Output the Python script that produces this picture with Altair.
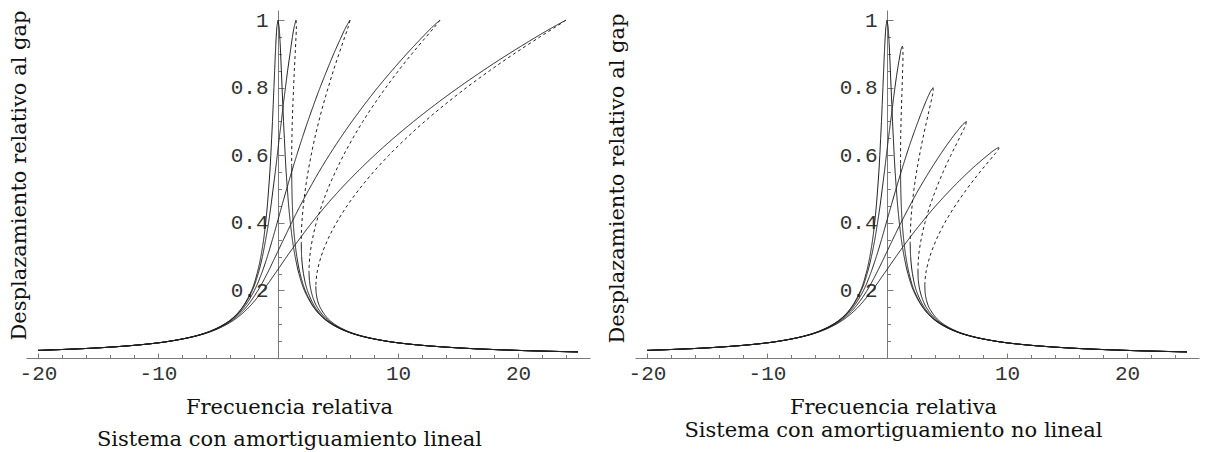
import altair as alt
import pandas as pd

# ---------------- values ----------------
# Left panel: "Sistema con amortiguamiento lineal"
L1_LEFT = [(-20.0, 0.0225), (-14.99, 0.03), (-11.24, 0.04), (-8.99, 0.05), (-6.91, 0.065), (-5.61, 0.08),
           (-4.48, 0.1), (-3.72, 0.12), (-2.97, 0.15), (-2.20, 0.2), (-1.74, 0.25), (-1.43, 0.3), (-1.20, 0.35),
           (-1.03, 0.4), (-0.89, 0.45), (-0.78, 0.5), (-0.68, 0.55), (-0.60, 0.6), (-0.53, 0.65), (-0.46, 0.7),
           (-0.40, 0.75), (-0.34, 0.8), (-0.28, 0.85), (-0.22, 0.9), (-0.15, 0.95), (-0.09, 0.98), (0.0, 1.0)]
L1_RIGHT = [(0.0, 1.0), (0.09, 0.98), (0.15, 0.95), (0.22, 0.9), (0.28, 0.85), (0.34, 0.8), (0.40, 0.75),
            (0.46, 0.7), (0.53, 0.65), (0.60, 0.6), (0.68, 0.55), (0.78, 0.5), (0.89, 0.45), (1.03, 0.4),
            (1.20, 0.35), (1.43, 0.3), (1.74, 0.25), (2.20, 0.2), (2.97, 0.15), (3.72, 0.12), (4.48, 0.1),
            (5.61, 0.08), (6.91, 0.065), (8.99, 0.05), (11.24, 0.04), (14.99, 0.03), (20.0, 0.0225), (25.0, 0.018)]

L2_UP = [(-20.0, 0.0225), (-14.99, 0.03), (-11.24, 0.04), (-8.99, 0.05), (-6.90, 0.065), (-5.60, 0.08),
         (-4.47, 0.1), (-3.70, 0.12), (-2.94, 0.15), (-2.14, 0.2), (-1.65, 0.25), (-1.30, 0.3), (-1.03, 0.35),
         (-0.79, 0.4), (-0.59, 0.45), (-0.41, 0.5), (-0.23, 0.55), (-0.06, 0.6), (0.10, 0.65), (0.28, 0.7),
         (0.44, 0.75), (0.62, 0.8), (0.80, 0.85), (1.00, 0.9), (1.20, 0.95), (1.35, 0.98), (1.5, 1.0)]
L2_DASH = [(1.5, 1.0), (1.53, 0.98), (1.50, 0.95), (1.43, 0.9), (1.36, 0.85), (1.30, 0.8), (1.24, 0.75),
           (1.19, 0.7), (1.16, 0.65), (1.14, 0.6), (1.14, 0.57)]
L2_LOW = [(1.14, 0.57), (1.14, 0.55), (1.16, 0.5), (1.20, 0.45), (1.27, 0.4), (1.39, 0.35), (1.57, 0.3),
          (1.84, 0.25), (2.27, 0.2), (3.00, 0.15), (3.74, 0.12), (4.49, 0.1), (5.62, 0.08), (6.92, 0.065),
          (9.0, 0.05), (11.24, 0.04), (14.99, 0.03), (20.0, 0.0225), (25.0, 0.018)]

L3_UP = [(-20.0, 0.0225), (-14.98, 0.03), (-11.23, 0.04), (-8.97, 0.05), (-6.88, 0.065), (-5.57, 0.08),
         (-4.42, 0.1), (-3.64, 0.12), (-2.83, 0.15), (-1.97, 0.2), (-1.37, 0.25), (-0.89, 0.3), (-0.47, 0.35),
         (-0.07, 0.4), (0.32, 0.45), (0.72, 0.5), (1.13, 0.55), (1.56, 0.6), (2.01, 0.65), (2.48, 0.7),
         (2.98, 0.75), (3.50, 0.8), (4.06, 0.85), (4.64, 0.9), (5.27, 0.95), (5.67, 0.98), (6.0, 1.0)]
L3_DASH = [(6.0, 1.0), (5.85, 0.98), (5.56, 0.95), (5.08, 0.9), (4.61, 0.85), (4.18, 0.8), (3.77, 0.75),
           (3.40, 0.7), (3.06, 0.65), (2.76, 0.6), (2.50, 0.55), (2.28, 0.5), (2.11, 0.45), (1.99, 0.4),
           (1.95, 0.37), (1.94, 0.34)]
L3_LOW = [(1.94, 0.34), (1.97, 0.3), (2.12, 0.25), (2.45, 0.2), (3.10, 0.15), (3.81, 0.12), (4.54, 0.1),
          (5.65, 0.08), (6.93, 0.065), (9.0, 0.05), (11.25, 0.04), (15.0, 0.03), (20.0, 0.0225), (25.0, 0.018)]

L4_UP = [(-20.0, 0.0225), (-14.98, 0.03), (-11.22, 0.04), (-8.96, 0.05), (-6.85, 0.065), (-5.52, 0.08),
         (-4.34, 0.1), (-3.53, 0.12), (-2.66, 0.15), (-1.67, 0.2), (-0.90, 0.25), (-0.22, 0.3), (0.45, 0.35),
         (1.13, 0.4), (1.84, 0.45), (2.60, 0.5), (3.40, 0.55), (4.26, 0.6), (5.18, 0.65), (6.16, 0.7),
         (7.20, 0.75), (8.30, 0.8), (9.48, 0.85), (10.72, 0.9), (12.04, 0.95), (12.87, 0.98), (13.5, 1.0)]
L4_DASH = [(13.5, 1.0), (13.06, 0.98), (12.33, 0.95), (11.15, 0.9), (10.03, 0.85), (8.98, 0.8), (7.99, 0.75),
           (7.07, 0.7), (6.23, 0.65), (5.46, 0.6), (4.77, 0.55), (4.15, 0.5), (3.63, 0.45), (3.19, 0.4),
           (2.86, 0.35), (2.65, 0.3), (2.58, 0.258)]
L4_LOW = [(2.58, 0.258), (2.62, 0.23), (2.75, 0.2), (2.95, 0.175), (3.27, 0.15), (3.92, 0.12), (4.61, 0.1),
          (5.69, 0.08), (6.97, 0.065), (9.02, 0.05), (11.26, 0.04), (15.0, 0.03), (20.0, 0.0225), (25.0, 0.018)]

L5_UP = [(-20.0, 0.0225), (-14.97, 0.03), (-11.20, 0.04), (-8.93, 0.05), (-6.81, 0.065), (-5.45, 0.08),
         (-4.24, 0.1), (-3.38, 0.12), (-2.43, 0.15), (-1.25, 0.2), (-0.24, 0.25), (0.73, 0.3), (1.74, 0.35),
         (2.81, 0.4), (3.97, 0.45), (5.22, 0.5), (6.58, 0.55), (8.04, 0.6), (9.61, 0.65), (11.30, 0.7),
         (13.10, 0.75), (15.02, 0.8), (17.06, 0.85), (19.22, 0.9), (21.51, 0.95), (22.96, 0.98), (24.0, 1.0)]
L5_DASH = [(24.0, 1.0), (23.14, 0.98), (21.81, 0.95), (19.66, 0.9), (17.62, 0.85), (15.70, 0.8), (13.90, 0.75),
           (12.22, 0.7), (10.67, 0.65), (9.24, 0.6), (7.94, 0.55), (6.78, 0.5), (5.75, 0.45), (4.87, 0.4),
           (4.14, 0.35), (3.59, 0.3), (3.24, 0.25), (3.15, 0.2125)]
L5_LOW = [(3.15, 0.2125), (3.19, 0.19), (3.30, 0.17), (3.51, 0.15), (4.07, 0.12), (4.72, 0.1), (5.76, 0.08),
          (7.01, 0.065), (9.05, 0.05), (11.28, 0.04), (15.01, 0.03), (20.0, 0.0225), (25.0, 0.018)]

# Right panel: "Sistema con amortiguamiento no lineal"
R2_UP = [(-20.0, 0.0225), (-14.99, 0.03), (-11.24, 0.04), (-8.99, 0.05), (-6.90, 0.065), (-5.60, 0.08),
         (-4.47, 0.1), (-3.70, 0.12), (-2.93, 0.15), (-2.14, 0.2), (-1.65, 0.25), (-1.30, 0.3), (-1.02, 0.35),
         (-0.79, 0.4), (-0.58, 0.45), (-0.40, 0.5), (-0.22, 0.55), (-0.05, 0.6), (0.12, 0.65), (0.30, 0.7),
         (0.48, 0.75), (0.66, 0.8), (0.86, 0.85), (1.00, 0.88), (1.10, 0.9), (1.15, 0.91), (1.23, 0.92),
         (1.28, 0.923)]
R2_DASH = [(1.28, 0.923), (1.31, 0.92), (1.33, 0.91), (1.33, 0.9), (1.33, 0.88), (1.30, 0.85), (1.26, 0.8),
           (1.21, 0.75), (1.17, 0.7), (1.14, 0.65), (1.13, 0.6), (1.13, 0.575)]
R2_LOW = [(1.13, 0.575), (1.13, 0.55), (1.15, 0.5), (1.19, 0.45), (1.27, 0.4), (1.39, 0.35), (1.57, 0.3),
          (1.84, 0.25), (2.26, 0.2), (3.00, 0.15), (3.74, 0.12), (4.49, 0.1), (5.62, 0.08), (6.92, 0.065),
          (9.0, 0.05), (11.24, 0.04), (14.99, 0.03), (20.0, 0.0225), (25.0, 0.018)]

R3_UP = [(-20.0, 0.0225), (-14.98, 0.03), (-11.23, 0.04), (-8.97, 0.05), (-6.88, 0.065), (-5.57, 0.08),
         (-4.42, 0.1), (-3.64, 0.12), (-2.83, 0.15), (-1.96, 0.2), (-1.37, 0.25), (-0.89, 0.3), (-0.46, 0.35),
         (-0.06, 0.4), (0.34, 0.45), (0.75, 0.5), (1.17, 0.55), (1.61, 0.6), (2.08, 0.65), (2.59, 0.7),
         (2.91, 0.73), (3.25, 0.76), (3.50, 0.78), (3.64, 0.79), (3.84, 0.8)]
R3_DASH = [(3.84, 0.8), (3.85, 0.79), (3.80, 0.78), (3.68, 0.76), (3.49, 0.73), (3.30, 0.7), (2.99, 0.65),
           (2.71, 0.6), (2.46, 0.55), (2.25, 0.5), (2.09, 0.45), (1.98, 0.4), (1.93, 0.34)]
R3_LOW = [(1.93, 0.34), (1.97, 0.3), (2.12, 0.25), (2.44, 0.2), (3.10, 0.15), (3.81, 0.12), (4.54, 0.1),
          (5.65, 0.08), (6.93, 0.065), (9.0, 0.05), (11.25, 0.04), (15.0, 0.03), (20.0, 0.0225), (25.0, 0.018)]

R4_UP = [(-20.0, 0.0225), (-14.98, 0.03), (-11.22, 0.04), (-8.96, 0.05), (-6.85, 0.065), (-5.52, 0.08),
         (-4.34, 0.1), (-3.53, 0.12), (-2.66, 0.15), (-1.66, 0.2), (-0.89, 0.25), (-0.20, 0.3), (0.47, 0.35),
         (1.16, 0.4), (1.89, 0.45), (2.66, 0.5), (3.50, 0.55), (4.40, 0.6), (4.98, 0.63), (5.60, 0.66),
         (6.05, 0.68), (6.29, 0.69), (6.61, 0.6996)]
R4_DASH = [(6.61, 0.6996), (6.56, 0.69), (6.44, 0.68), (6.16, 0.66), (5.74, 0.63), (5.32, 0.6), (4.67, 0.55),
           (4.09, 0.5), (3.58, 0.45), (3.16, 0.4), (2.84, 0.35), (2.63, 0.3), (2.58, 0.26)]
R4_LOW = [(2.58, 0.26), (2.61, 0.23), (2.74, 0.2), (2.95, 0.175), (3.27, 0.15), (3.92, 0.12), (4.61, 0.1),
          (5.69, 0.08), (6.97, 0.065), (9.02, 0.05), (11.26, 0.04), (15.0, 0.03), (20.0, 0.0225), (25.0, 0.018)]

R5_UP = [(-20.0, 0.0225), (-14.97, 0.03), (-11.20, 0.04), (-8.93, 0.05), (-6.81, 0.065), (-5.45, 0.08),
         (-4.24, 0.1), (-3.38, 0.12), (-2.42, 0.15), (-1.24, 0.2), (-0.23, 0.25), (0.75, 0.3), (1.77, 0.35),
         (2.87, 0.4), (4.05, 0.45), (5.35, 0.5), (6.48, 0.54), (7.39, 0.57), (8.38, 0.6), (8.73, 0.61),
         (9.13, 0.62), (9.31, 0.6229)]
R5_DASH = [(9.31, 0.6229), (9.32, 0.62), (9.13, 0.61), (8.90, 0.6), (8.20, 0.57), (7.51, 0.54), (6.65, 0.5),
           (5.67, 0.45), (4.81, 0.4), (4.11, 0.35), (3.57, 0.3), (3.23, 0.25), (3.15, 0.215)]
R5_LOW = [(3.15, 0.215), (3.19, 0.19), (3.30, 0.17), (3.50, 0.15), (4.07, 0.12), (4.72, 0.1), (5.76, 0.08),
          (7.01, 0.065), (9.05, 0.05), (11.28, 0.04), (15.01, 0.03), (20.0, 0.0225), (25.0, 0.018)]

# axes
X_LABELS = [-20, -10, 10, 20]
X_TICKS = [-20, -18, -16, -14, -12, -10, -8, -6, -4, -2, 2, 4, 6, 8, 10, 12, 14, 16, 18, 20, 22, 24]
Y_LABELS = [0.2, 0.4, 0.6, 0.8, 1.0]
Y_TICKS = [0.05, 0.1, 0.15, 0.2, 0.25, 0.3, 0.35, 0.4, 0.45, 0.5, 0.55, 0.6, 0.65, 0.7, 0.75,
           0.8, 0.85, 0.9, 0.95, 1.0]
X_DOMAIN = [-21, 26]
Y_DOMAIN = [0, 1.03]

X_TITLE = "Frecuencia relativa"
Y_TITLE = "Desplazamiento relativo al gap"
CAPTION_LEFT = "Sistema con amortiguamiento lineal"
CAPTION_RIGHT = "Sistema con amortiguamiento no lineal"

# ---------------- styling ----------------
W, H = 564, 348
X0 = W * (0 - X_DOMAIN[0]) / (X_DOMAIN[1] - X_DOMAIN[0])  # pixel position of x = 0
LINE_COLOR = "#1e1e1e"
AXIS_COLOR = "#7a7a7a"
LABEL_FONT = "Liberation Mono"
TITLE_FONT = "DejaVu Serif"


def frame(segments):
    rows = []
    for name, style, pts in segments:
        for i, (x, y) in enumerate(pts):
            rows.append({"seg": name, "style": style, "i": i, "x": x, "y": y})
    return pd.DataFrame(rows)


def panel(df, caption, line_height, xtitle_x, ytitle_dx, ytitle_y):
    xs = alt.Scale(domain=X_DOMAIN, nice=False, zero=False)
    ys = alt.Scale(domain=Y_DOMAIN, nice=False, zero=False)
    base = alt.Chart(df)

    curves = base.mark_line(interpolate="catmull-rom", strokeWidth=1, color=LINE_COLOR).encode(
        x=alt.X("x:Q", scale=xs, axis=alt.Axis(
            orient="bottom", values=X_LABELS, ticks=False, tickSize=0, grid=False,
            domainColor=AXIS_COLOR, domainWidth=1,
            labelFont=LABEL_FONT, labelFontSize=21, labelColor="#333333", labelPadding=4,
            labelFlush=False, labelExpr="'' + datum.value",
            title=[X_TITLE, caption], titleFont=TITLE_FONT, titleFontSize=21,
            titleFontWeight="normal", titleColor="#111111", titleLineHeight=line_height,
            titleX=xtitle_x, titleY=55, titleAlign="center", titleBaseline="alphabetic")),
        y=alt.Y("y:Q", scale=ys, axis=alt.Axis(
            orient="left", offset=-X0, values=Y_LABELS, ticks=False, tickSize=0, grid=False,
            domainColor=AXIS_COLOR, domainWidth=1, format="~g",
            labelFont=LABEL_FONT, labelFontSize=21, labelColor="#333333", labelPadding=10,
            labelFlush=False,
            title=Y_TITLE, titleFont=TITLE_FONT, titleFontSize=21, titleFontWeight="normal",
            titleColor="#111111", titleX=-X0 + ytitle_dx, titleY=ytitle_y, titleAngle=270,
            titleAlign="center", titleBaseline="bottom")),
        detail="seg:N",
        order="i:Q",
        strokeDash=alt.StrokeDash("style:N", scale=alt.Scale(domain=["solid", "dashed"],
                                                            range=[[1, 0], [3, 3]]), legend=None),
    )

    ticks = base.mark_line(opacity=0).encode(
        x=alt.X("x:Q", scale=xs, axis=alt.Axis(
            orient="top", offset=-H, values=X_TICKS, labels=False, domain=False, grid=False,
            title=None, tickColor=AXIS_COLOR, tickWidth=1,
            tickSize={"condition": {"test": "datum.value % 10 == 0", "value": 5}, "value": 3.5})),
        y=alt.Y("y:Q", scale=ys, axis=alt.Axis(
            orient="right", offset=-(W - X0), values=Y_TICKS, labels=False, domain=False, grid=False,
            title=None, tickColor=AXIS_COLOR, tickWidth=1,
            tickSize={"condition": {"test": "abs(datum.value * 5 - round(datum.value * 5)) < 0.01",
                                    "value": 6}, "value": 3.5})),
        detail="seg:N",
        order="i:Q",
    )

    return alt.layer(curves, ticks).resolve_axis(x="independent", y="independent").properties(
        width=W, height=H)


left_df = frame([
    ("c1a", "solid", L1_LEFT), ("c1b", "solid", L1_RIGHT),
    ("c2a", "solid", L2_UP), ("c2b", "dashed", L2_DASH), ("c2c", "solid", L2_LOW),
    ("c3a", "solid", L3_UP), ("c3b", "dashed", L3_DASH), ("c3c", "solid", L3_LOW),
    ("c4a", "solid", L4_UP), ("c4b", "dashed", L4_DASH), ("c4c", "solid", L4_LOW),
    ("c5a", "solid", L5_UP), ("c5b", "dashed", L5_DASH), ("c5c", "solid", L5_LOW),
])
right_df = frame([
    ("c1a", "solid", L1_LEFT), ("c1b", "solid", L1_RIGHT),
    ("c2a", "solid", R2_UP), ("c2b", "dashed", R2_DASH), ("c2c", "solid", R2_LOW),
    ("c3a", "solid", R3_UP), ("c3b", "dashed", R3_DASH), ("c3c", "solid", R3_LOW),
    ("c4a", "solid", R4_UP), ("c4b", "dashed", R4_DASH), ("c4c", "solid", R4_LOW),
    ("c5a", "solid", R5_UP), ("c5b", "dashed", R5_DASH), ("c5c", "solid", R5_LOW),
])

left = panel(left_df, CAPTION_LEFT, 32, 263, 3, 165)
right = panel(right_df, CAPTION_RIGHT, 23, 258, -8, 168)

chart = alt.hconcat(left, right, spacing=45, bounds="flush").properties(
    padding={"left": 8, "top": 9, "right": 5, "bottom": 2},
    background="white",
).configure_view(stroke=None)

chart.save("out.html", embed_options={"renderer": "svg", "actions": False})
